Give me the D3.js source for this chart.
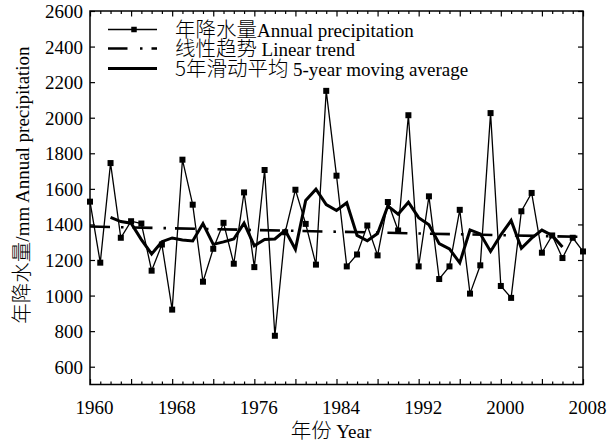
<!DOCTYPE html>
<html><head><meta charset="utf-8">
<script src="https://cdn.jsdelivr.net/npm/d3@7"></script>
<style>html,body{margin:0;padding:0;background:#fff;}svg{display:block;}</style>
</head><body>
<svg id="chart" width="609" height="444"></svg>
<script>
const years = d3.range(1960, 2009);
const precip = [1528,1185,1745,1325,1418,1405,1140,1287,921,1764,1511,1078,1263,1409,1179,1580,1160,1706,774,1356,1595,1403,1174,2151,1674,1164,1231,1394,1226,1526,1366,2014,1164,1558,1093,1164,1482,1011,1170,2026,1054,987,1474,1577,1241,1338,1211,1325,1248];
const maYears = d3.range(1962, 2007);
const movingAvg = [1440,1416,1407,1315,1234,1303,1324,1312,1307,1405,1288,1302,1318,1407,1280,1315,1318,1367,1260,1535,1598,1512,1478,1522,1338,1308,1349,1504,1458,1525,1438,1398,1292,1262,1184,1369,1347,1248,1341,1422,1266,1323,1368,1338,1273];
const trendYears = [1960, 2008];
const trendValues = [1388, 1330];
const xTickLabels = [1960,1968,1976,1984,1992,2000,2008];
const yTickLabels = [600,800,1000,1200,1400,1600,1800,2000,2200,2400,2600];
const legendLabels = [["年降水量","Annual precipitation"],["线性趋势 ","Linear trend"],["5年滑动平均 ","5-year moving average"]];

const W = 609, H = 444;
const L = 90, R = 583, T = 11, B = 384.5;
const svg = d3.select("#chart");
const x = d3.scaleLinear().domain([1960, 2008]).range([L, R]);
const y = d3.scaleLinear().domain([500, 2600]).range([B, T]);
const latin = "'Liberation Serif','Times New Roman',serif";
const cjk = "'Noto Sans CJK SC','Liberation Serif',serif";
const fs = 19, cfs = 20.5, cw = 300;

function styleAxis(g){
  g.select(".domain").remove();
  g.selectAll("line").attr("stroke","#000").attr("stroke-width",1.2);
  g.selectAll("text").attr("font-family",latin).attr("font-size",fs).attr("fill","#000");
}
const minorYears = years.filter(v => v % 4 !== 0);
const medYears = years.filter(v => v % 4 === 0);
svg.append("g").attr("transform",`translate(0,${B})`)
  .call(d3.axisBottom(x).tickValues(minorYears).tickSize(-3).tickFormat(""))
  .call(styleAxis);
svg.append("g").attr("transform",`translate(0,${B})`)
  .call(d3.axisBottom(x).tickValues(medYears).tickSize(-5.5).tickFormat(""))
  .call(styleAxis);
svg.append("g").attr("transform",`translate(0,${B})`)
  .call(d3.axisBottom(x).tickValues(xTickLabels).tickSize(0).tickPadding(0).tickFormat(d3.format("d")))
  .call(styleAxis)
  .call(g => g.selectAll("text").attr("dy",null).attr("y",29.5).attr("dx",4));
svg.append("g").attr("transform",`translate(0,${T})`)
  .call(d3.axisTop(x).tickValues(minorYears).tickSize(-3).tickFormat(""))
  .call(styleAxis);
svg.append("g").attr("transform",`translate(0,${T})`)
  .call(d3.axisTop(x).tickValues(medYears).tickSize(-5.5).tickFormat(""))
  .call(styleAxis);
svg.append("g").attr("transform",`translate(${L},0)`)
  .call(d3.axisLeft(y).tickValues(yTickLabels).tickSize(-5).tickPadding(7).tickFormat(d3.format("d")))
  .call(styleAxis)
  .call(g => g.selectAll("text").attr("x",-7).attr("dy","0.34em"));
svg.append("g").attr("transform",`translate(${R},0)`)
  .call(d3.axisRight(y).tickValues(yTickLabels).tickSize(-5).tickFormat(""))
  .call(styleAxis);
svg.append("rect").attr("x",L).attr("y",T).attr("width",R-L).attr("height",B-T)
  .attr("fill","none").attr("stroke","#000").attr("stroke-width",1.5);

const trendData = trendYears.map((yr,i)=>({yr, v: trendValues[i]}));
svg.append("path").datum(trendData)
  .attr("d", d3.line().x(d=>x(d.yr)).y(d=>y(d.v)))
  .attr("fill","none").attr("stroke","#000").attr("stroke-width",2.6)
  .attr("stroke-dasharray","20,11,2.5,9");
const annual = years.map((yr,i)=>({yr, v: precip[i]}));
svg.append("path").datum(annual)
  .attr("d", d3.line().x(d=>x(d.yr)).y(d=>y(d.v)))
  .attr("fill","none").attr("stroke","#000").attr("stroke-width",1.3);
const ma = maYears.map((yr,i)=>({yr, v: movingAvg[i]}));
svg.append("path").datum(ma)
  .attr("d", d3.line().x(d=>x(d.yr)).y(d=>y(d.v)))
  .attr("fill","none").attr("stroke","#000").attr("stroke-width",3).attr("stroke-linejoin","miter");
const ms = 6;
svg.append("g").selectAll("rect").data(annual).join("rect")
  .attr("x",d=>x(d.yr)-ms/2).attr("y",d=>y(d.v)-ms/2).attr("width",ms).attr("height",ms)
  .attr("fill","#000");

const lx0 = 108, lx1 = 157, ly = [29.5, 48.5, 68.5];
const leg = svg.append("g");
leg.append("line").attr("x1",lx0).attr("x2",lx1).attr("y1",ly[0]).attr("y2",ly[0]).attr("stroke","#000").attr("stroke-width",1.3);
leg.append("rect").attr("x",134-2.75).attr("y",ly[0]-2.75).attr("width",5.5).attr("height",5.5).attr("fill","#000");
leg.append("line").attr("x1",lx0).attr("x2",lx1).attr("y1",ly[1]).attr("y2",ly[1]).attr("stroke","#000").attr("stroke-width",2.6).attr("stroke-dasharray","19.5,12.5,2.5,9");
leg.append("line").attr("x1",lx0).attr("x2",lx1).attr("y1",ly[2]).attr("y2",ly[2]).attr("stroke","#000").attr("stroke-width",3);
legendLabels.forEach((lab,i)=>{
  const t = leg.append("text").attr("x",175).attr("y",ly[i]+7).attr("fill","#000");
  t.append("tspan").attr("font-family",cjk).attr("font-weight",cw).attr("font-size",cfs).text(lab[0]);
  t.append("tspan").attr("font-family",latin).attr("font-size",fs).text(lab[1]);
});
const xt = svg.append("text").attr("x",331).attr("y",438).attr("text-anchor","middle").attr("fill","#000");
xt.append("tspan").attr("font-family",cjk).attr("font-weight",cw).attr("font-size",cfs).text("年份 ");
xt.append("tspan").attr("font-family",latin).attr("font-size",fs).text("Year");
const yt = svg.append("text").attr("transform","translate(29,185) rotate(-90)").attr("text-anchor","middle").attr("fill","#000");
yt.append("tspan").attr("font-family",cjk).attr("font-weight",cw).attr("font-size",cfs).text("年降水量");
yt.append("tspan").attr("font-family",latin).attr("font-size",fs).text("/mm Annual precipitation");
</script>
</body></html>
